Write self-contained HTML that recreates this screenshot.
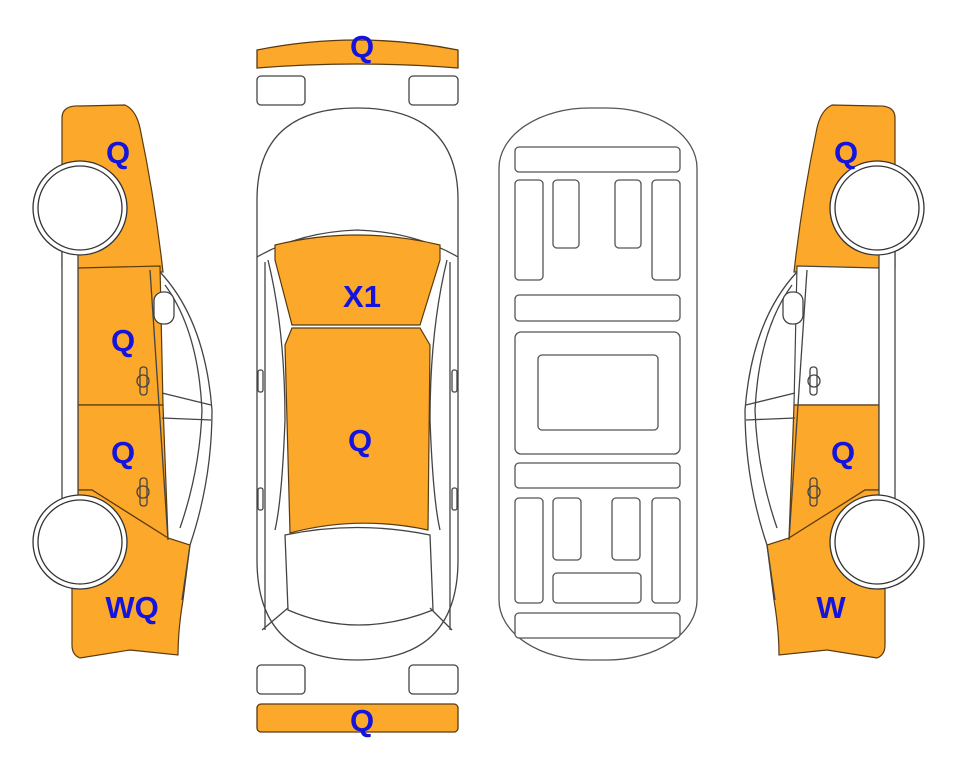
<!DOCTYPE html>
<html><head><meta charset="utf-8"><style>
html,body{margin:0;padding:0;background:#fff;width:963px;height:768px;overflow:hidden}
text{font-family:"Liberation Sans",Arial,sans-serif;font-weight:bold;font-size:31px;fill:#1414dc;text-anchor:middle}
</style></head><body>
<svg width="963" height="768" viewBox="0 0 963 768" xmlns="http://www.w3.org/2000/svg">
<defs>
<g id="carbody" fill="none" stroke="#444" stroke-width="1.3">
  <path d="M160,272 Q205,320 212,410 Q212,480 190,545 L182,600"/>
  <path d="M165,285 Q198,330 202,410 Q200,470 180,528"/>
  <path d="M162,393 L211,405 M162,418 L211,420"/>
  <rect x="154" y="292" width="20" height="32" rx="9" fill="#fff"/>
  <rect x="62" y="250" width="16" height="250" fill="#fff"/>
</g>
</defs>
<!-- LEFT CAR -->
<g stroke="#5a3a10" stroke-width="1.2">
  <path d="M62,118 Q62,105 80,106 L125,105 Q136,110 140,128 Q155,200 163,272 L78,268 L62,268 Z" fill="#fba82b"/>
  <path d="M78,268 L160,266 L163,405 L78,405 Z" fill="#fba82b"/>
  <path d="M78,405 L163,405 L168,538 L92,490 L78,490 Z" fill="#fba82b"/>
  <path d="M78,490 L92,490 L168,538 L190,545 L183,600 Q178,630 178,655 L130,650 L80,658 Q72,655 72,645 L72,585 Z" fill="#fba82b"/>
</g>
<use href="#carbody"/>
<g fill="none" stroke="#444" stroke-width="1.3">
  <path d="M150,270 L168,540"/>
  <rect x="140" y="367" width="7" height="28" rx="3"/><circle cx="143" cy="381" r="6"/>
  <rect x="140" y="478" width="7" height="28" rx="3"/><circle cx="143" cy="492" r="6"/>
</g>
<g stroke="#333" stroke-width="1.3" fill="#fff">
  <circle cx="80" cy="208" r="47"/><circle cx="80" cy="208" r="42"/>
  <circle cx="80" cy="542" r="47"/><circle cx="80" cy="542" r="42"/>
</g>
<!-- RIGHT CAR (mirrored) -->
<g transform="translate(957,0) scale(-1,1)">
<g stroke="#5a3a10" stroke-width="1.2">
  <path d="M62,118 Q62,105 80,106 L125,105 Q136,110 140,128 Q155,200 163,272 L78,268 L62,268 Z" fill="#fba82b"/>
  <path d="M78,268 L160,266 L163,405 L78,405 Z" fill="#fff" stroke="#444"/>
  <path d="M78,405 L163,405 L168,538 L92,490 L78,490 Z" fill="#fba82b"/>
  <path d="M78,490 L92,490 L168,538 L190,545 L183,600 Q178,630 178,655 L130,650 L80,658 Q72,655 72,645 L72,585 Z" fill="#fba82b"/>
</g>
<use href="#carbody"/>
<g fill="none" stroke="#444" stroke-width="1.3">
  <path d="M150,270 L168,540"/>
  <rect x="140" y="367" width="7" height="28" rx="3"/><circle cx="143" cy="381" r="6"/>
  <rect x="140" y="478" width="7" height="28" rx="3"/><circle cx="143" cy="492" r="6"/>
</g>
<g stroke="#333" stroke-width="1.3" fill="#fff">
  <circle cx="80" cy="208" r="47"/><circle cx="80" cy="208" r="42"/>
  <circle cx="80" cy="542" r="47"/><circle cx="80" cy="542" r="42"/>
</g>
</g>
<!-- CENTER TOP VIEW -->
<g stroke="#444" stroke-width="1.3" fill="#fff">
  <path d="M257,68 L257,50 Q357,30 458,50 L458,68 Q357,60 257,68 Z" fill="#fba82b" stroke="#5a3a10"/>
  <rect x="257" y="76" width="48" height="29" rx="4"/><rect x="409" y="76" width="49" height="29" rx="4"/>
  <rect x="257" y="665" width="48" height="29" rx="4"/><rect x="409" y="665" width="49" height="29" rx="4"/>
  <rect x="257" y="704" width="201" height="28" rx="4" fill="#fba82b" stroke="#5a3a10"/>
  <path d="M257,230 L257,200 Q257,108 357,108 Q458,108 458,200 L458,560 Q458,660 357,660 Q257,660 257,560 Z"/>
  <path d="M257,257 Q300,232 357,230 Q415,232 458,257" fill="none"/>
  <path d="M265,262 L265,630 M450,262 L450,630" fill="none"/>
  <path d="M268,260 Q285,330 285,420 Q282,500 275,530 M447,260 Q430,330 430,420 Q433,500 440,530" fill="none"/>
  <path d="M285,535 Q357,520 430,535 L433,610 Q357,640 288,610 Z" fill="none"/>
  <path d="M262,630 L288,608 M452,630 L430,608" fill="none"/>
  <rect x="258" y="370" width="5" height="22" rx="2"/><rect x="452" y="370" width="5" height="22" rx="2"/>
  <rect x="258" y="488" width="5" height="22" rx="2"/><rect x="452" y="488" width="5" height="22" rx="2"/>
</g>
<g stroke="#5a3a10" stroke-width="1.2" fill="#fba82b">
  <path d="M275,245 Q357,225 440,245 L440,260 L420,325 L292,325 L275,260 Z"/>
  <path d="M285,345 L292,328 L420,328 L430,345 L428,530 Q357,515 290,533 Z"/>
</g>
<!-- UNDERCARRIAGE -->
<g stroke="#555" stroke-width="1.3" fill="#fff">
  <rect x="499" y="108" width="198" height="552" rx="90" ry="60"/>
  <rect x="515" y="147" width="165" height="25" rx="4"/>
  <rect x="515" y="180" width="28" height="100" rx="4"/>
  <rect x="553" y="180" width="26" height="68" rx="4"/>
  <rect x="615" y="180" width="26" height="68" rx="4"/>
  <rect x="652" y="180" width="28" height="100" rx="4"/>
  <rect x="515" y="295" width="165" height="26" rx="4"/>
  <rect x="515" y="332" width="165" height="122" rx="6"/>
  <rect x="538" y="355" width="120" height="75" rx="4"/>
  <rect x="515" y="463" width="165" height="25" rx="4"/>
  <rect x="515" y="498" width="28" height="105" rx="4"/>
  <rect x="553" y="498" width="28" height="62" rx="4"/>
  <rect x="612" y="498" width="28" height="62" rx="4"/>
  <rect x="652" y="498" width="28" height="105" rx="4"/>
  <rect x="553" y="573" width="88" height="30" rx="4"/>
  <rect x="515" y="613" width="165" height="25" rx="4"/>
</g>
<!-- LABELS -->
<text x="118" y="163">Q</text>
<text x="123" y="351">Q</text>
<text x="123" y="463">Q</text>
<text x="132" y="618">WQ</text>
<text x="362" y="57">Q</text>
<text x="362" y="307">X1</text>
<text x="360" y="451">Q</text>
<text x="362" y="731">Q</text>
<text x="846" y="163">Q</text>
<text x="843" y="463">Q</text>
<text x="831" y="618">W</text>
</svg>
</body></html>
